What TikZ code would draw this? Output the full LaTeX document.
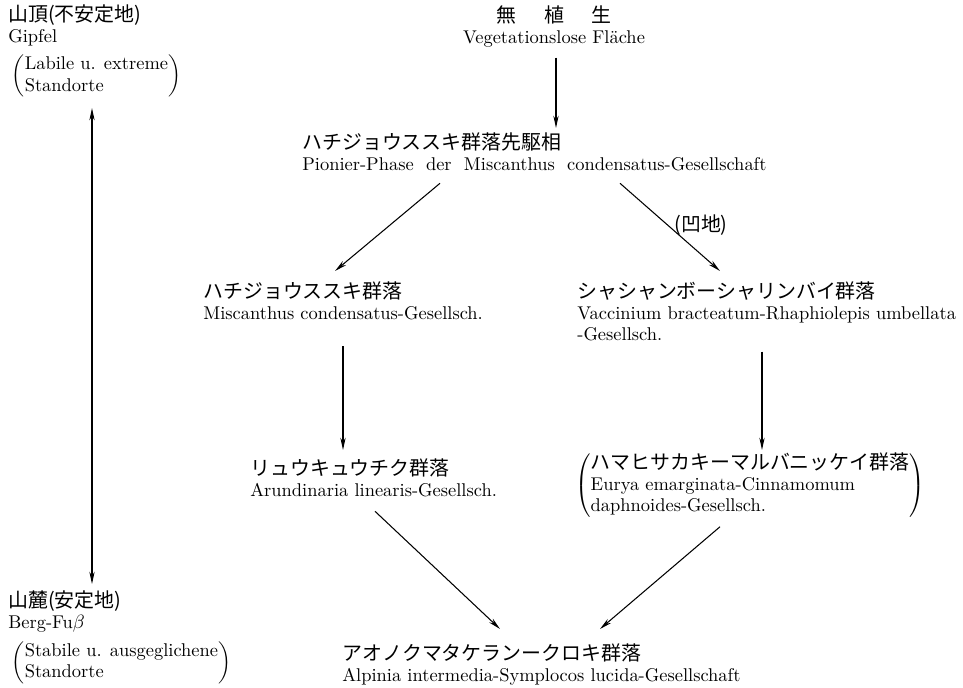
\documentclass[tikz,border=0pt]{standalone}
\usepackage{fontspec}
\newfontfamily\jp{Noto Sans CJK JP}[Scale=1.08]
\usetikzlibrary{arrows.meta}

\newcommand{\klammer}[1]{$\delimiterfactor=850\left(\begin{tabular}{@{}l@{}}#1\end{tabular}\right)$}

\begin{document}
\begin{tikzpicture}[x=0.02cm,y=-0.02cm,
  every node/.style={anchor=north west,inner sep=0pt,align=left,
    font=\fontsize{10.5}{12.2}\selectfont},
  pfeil/.style={-{Stealth[length=7pt,width=3pt]},line width=0.6pt}]
\useasboundingbox (0,0) rectangle (963,688);
% Standorte links
\node (gipfel) at (8,4) {{\jp 山頂(不安定地)}\\Gipfel\\[4pt]\hspace*{2pt}\klammer{Labile u. extreme\\Standorte}};
\node (fuss) at (8,590) {{\jp 山麓(安定地)}\\Berg-Fu$\beta$\\[4pt]\hspace*{2pt}\klammer{Stabile u. ausgeglichene\\Standorte}};
\draw[{Stealth[length=7pt,width=3pt]}-{Stealth[length=7pt,width=3pt]},line width=0.6pt]
  ([shift={(84,10)}]gipfel.south west) -- ([shift={(84,-6)}]fuss.north west);
% Sukzession
\node[anchor=north,align=center] (veg) at (554,5) {{\jp 無\hspace{1.4em}植\hspace{1.4em}生}\\Vegetationslose Fläche};
\node (pio) at (302,132) {{\jp ハチジョウススキ群落先駆相}\\Pionier-Phase\ \ der\ \ Miscanthus\ \ condensatus-Gesellschaft};
\node (misc) at (203,281) {{\jp ハチジョウススキ群落}\\Miscanthus condensatus-Gesellsch.};
\node (vacc) at (577,281) {{\jp シャシャンボーシャリンバイ群落}\\Vaccinium bracteatum-Rhaphiolepis umbellata\\-Gesellsch.};
\node (arund) at (250,458) {{\jp リュウキュウチク群落}\\Arundinaria linearis-Gesellsch.};
\node (eurya) at (575,452) {\klammer{{\jp ハマヒサカキーマルバニッケイ群落}\\Eurya emarginata-Cinnamomum\\daphnoides-Gesellsch.}};
\node (alpin) at (342,643) {{\jp アオノクマタケランークロキ群落}\\Alpinia intermedia-Symplocos lucida-Gesellschaft};
\node[anchor=center] (ochi) at (701,225) {{\jp (凹地)}};

\draw[pfeil] ([shift={(2,10)}]veg.south) -- ([shift={(2,-4)}]veg.south |- pio.north);
\draw[pfeil] ([shift={(138,12)}]pio.south west) -- ([shift={(132,-10)}]misc.north west);
\draw[pfeil] ([shift={(318,12)}]pio.south west) -- ([shift={(143,-10)}]vacc.north west);
\draw[pfeil] ([shift={(140,26)}]misc.south west) -- ([shift={(140,-8)}]misc.south west |- arund.north);
\draw[pfeil] ([shift={(185,10)}]vacc.south west) -- ([shift={(185,-2)}]vacc.south west |- eurya.north);
\draw[pfeil] ([shift={(125,14)}]arund.south west) -- ([shift={(158,-14)}]alpin.north west);
\draw[pfeil] ([shift={(145,8)}]eurya.south west) -- ([shift={(258,-14)}]alpin.north west);
\end{tikzpicture}
\end{document}
